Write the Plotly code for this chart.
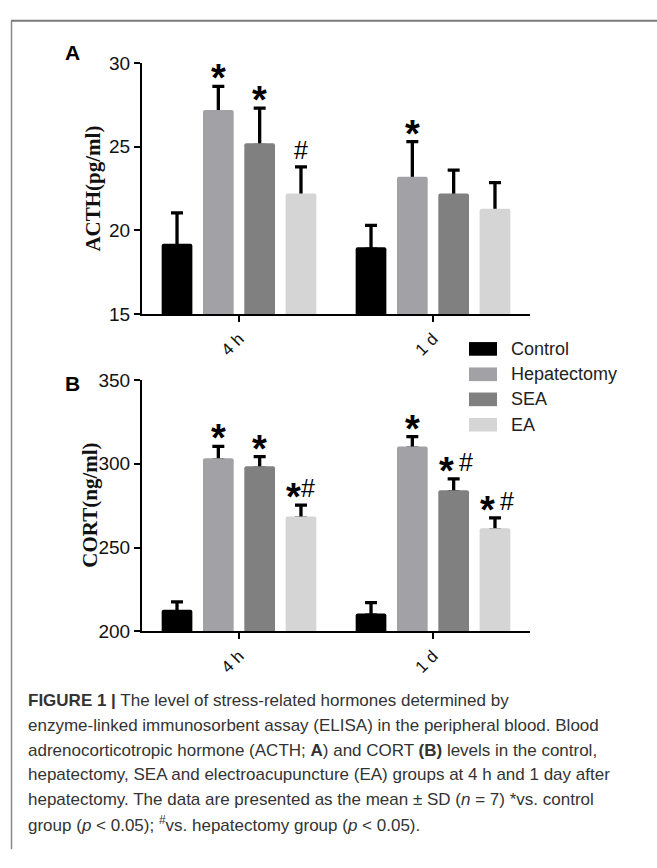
import plotly.graph_objects as go

W, H = 657, 868

# ---------------- data ----------------
timepoints = ["4 h", "1 d"]
groups = ["Control", "Hepatectomy", "SEA", "EA"]
colors = ["#000000", "#a2a2a6", "#808080", "#d5d5d5"]

acth_control = [19.2, 19.0]
acth_hepatectomy = [27.2, 23.2]
acth_sea = [25.2, 22.2]
acth_ea = [22.2, 21.3]
acth_sd_control = [1.85, 1.3]
acth_sd_hepatectomy = [1.4, 2.1]
acth_sd_sea = [2.1, 1.4]
acth_sd_ea = [1.6, 1.55]

cort_control = [212.8, 210.7]
cort_hepatectomy = [303.4, 310.4]
cort_sea = [298.5, 284.2]
cort_ea = [268.5, 261.5]
cort_sd_control = [4.8, 6.4]
cort_sd_hepatectomy = [7.0, 5.9]
cort_sd_sea = [5.8, 6.8]
cort_sd_ea = [6.8, 6.2]

# significance marks per group (one string per time point)
acth_marks_control = ["", ""]
acth_marks_hepatectomy = ["*", "*"]
acth_marks_sea = ["*", ""]
acth_marks_ea = ["#", ""]
cort_marks_control = ["", ""]
cort_marks_hepatectomy = ["*", "*"]
cort_marks_sea = ["*", "* #"]
cort_marks_ea = ["*#", "* #"]

acth_ticks = [15, 20, 25, 30]
cort_ticks = [200, 250, 300, 350]

acth_means = [acth_control, acth_hepatectomy, acth_sea, acth_ea]
acth_sds = [acth_sd_control, acth_sd_hepatectomy, acth_sd_sea, acth_sd_ea]
acth_marks = [acth_marks_control, acth_marks_hepatectomy, acth_marks_sea, acth_marks_ea]
cort_means = [cort_control, cort_hepatectomy, cort_sea, cort_ea]
cort_sds = [cort_sd_control, cort_sd_hepatectomy, cort_sd_sea, cort_sd_ea]
cort_marks = [cort_marks_control, cort_marks_hepatectomy, cort_marks_sea, cort_marks_ea]

# ---------------- layout helpers ----------------
SANS = "Liberation Sans, Arial, sans-serif"
SERIF = "Liberation Serif, Times New Roman, serif"
BARGAP = 0.148
BARGROUPGAP = 0.257
SLOT = (1 - BARGAP) / len(groups)


def px_x(p):
    return p / W


def px_y(p):
    return 1 - p / H


fig = go.Figure()

panels = [
    ("x", "y", acth_means, acth_sds, acth_marks, 0.12),
    ("x2", "y2", cort_means, cort_sds, cort_marks, 1.0),
]

annotations = []
for xa, ya, means, sds, marks, shoe in panels:
    for gi, g in enumerate(groups):
        # carrier trace for the upper-only error bar (its lower cap hides under the bar)
        fig.add_trace(go.Bar(
            x=timepoints, y=means[gi], xaxis=xa, yaxis=ya,
            offsetgroup=g, marker=dict(color="rgba(0,0,0,0)", line=dict(width=0)),
            error_y=dict(type="data", symmetric=False, array=sds[gi],
                         arrayminus=[shoe] * len(timepoints),
                         thickness=3.3, width=6, color="#000000"),
            showlegend=False, hoverinfo="skip",
        ))
        fig.add_trace(go.Bar(
            x=timepoints, y=means[gi], xaxis=xa, yaxis=ya,
            offsetgroup=g, name=g,
            marker=dict(color=colors[gi], line=dict(width=0), cornerradius=2),
            showlegend=False,
        ))
        for ti in range(len(timepoints)):
            m = marks[gi][ti]
            if not m:
                continue
            xpos = ti + (gi - 1.5) * SLOT
            ytop = means[gi][ti] + sds[gi][ti]
            if m == "*":
                parts = [("*", 0)]
            elif m == "#":
                parts = [("#", 0)]
            elif m == "*#":
                parts = [("*", -7), ("#", 7.5)]
            else:
                parts = [("*", -7), ("#", 12.5)]
            for ch, dx in parts:
                if ch == "*":
                    annotations.append(dict(
                        x=xpos, y=ytop, xref=xa, yref=ya, text="<b>*</b>",
                        showarrow=False, xanchor="center", yanchor="middle",
                        xshift=dx, yshift=8,
                        font=dict(family=SANS, size=38, color="#000000")))
                else:
                    annotations.append(dict(
                        x=xpos, y=ytop, xref=xa, yref=ya, text="#",
                        showarrow=False, xanchor="center", yanchor="middle",
                        xshift=dx, yshift=17,
                        font=dict(family=SANS, size=25, color="#000000")))

x_dom = [px_x(142), px_x(530)]
ya_dom = [px_y(311.7), px_y(54.3)]
yb_dom = [px_y(636.7), px_y(379.3)]

axis_common = dict(showline=True, linewidth=2, linecolor="#000000", ticks="outside",
                   ticklen=6, tickwidth=2, tickcolor="#000000", showgrid=False,
                   zeroline=False)

fig.update_layout(
    width=W, height=H,
    margin=dict(l=0, r=0, t=0, b=0),
    paper_bgcolor="#ffffff", plot_bgcolor="rgba(0,0,0,0)",
    barmode="group", bargap=BARGAP, bargroupgap=BARGROUPGAP,
    showlegend=False,
    xaxis=dict(domain=x_dom, anchor="y", type="category", range=[-0.5, 1.5],
               tickangle=-45, tickfont=dict(family=SANS, size=17, color="#111111"),
               **axis_common),
    yaxis=dict(domain=ya_dom, anchor="x", range=[acth_ticks[0], acth_ticks[-1]],
               tickvals=acth_ticks, tickfont=dict(family=SANS, size=19, color="#111111"),
               **axis_common),
    xaxis2=dict(domain=x_dom, anchor="y2", type="category", range=[-0.5, 1.5],
                tickangle=-45, tickfont=dict(family=SANS, size=17, color="#111111"),
                **axis_common),
    yaxis2=dict(domain=yb_dom, anchor="x2", range=[cort_ticks[0], cort_ticks[-1]],
                tickvals=cort_ticks, tickfont=dict(family=SANS, size=19, color="#111111"),
                **axis_common),
)

# y titles
annotations.append(dict(x=px_x(93), y=px_y(183), xref="paper", yref="paper",
                        text="<b>ACTH(pg/ml)</b>", textangle=-90, showarrow=False,
                        xanchor="center", yanchor="middle",
                        font=dict(family=SERIF, size=21, color="#111111")))
annotations.append(dict(x=px_x(90), y=px_y(508), xref="paper", yref="paper",
                        text="<b>CORT(ng/ml)</b>", textangle=-90, showarrow=False,
                        xanchor="center", yanchor="middle",
                        font=dict(family=SERIF, size=21, color="#111111")))
# panel letters
for letter, yc in (("A", 43.5), ("B", 383)):
    annotations.append(dict(x=px_x(72), y=px_y(yc), xref="paper", yref="paper",
                            text="<b>%s</b>" % letter, showarrow=False,
                            xanchor="center", yanchor="middle",
                            font=dict(family=SANS, size=21, color="#000000")))

# legend (manual)
shapes = []
leg_y = [347.3, 373.3, 399, 425]
for gi, g in enumerate(groups):
    shapes.append(dict(type="rect", xref="paper", yref="paper",
                       x0=px_x(469), x1=px_x(497), y0=px_y(leg_y[gi] - 7), y1=px_y(leg_y[gi] + 7),
                       fillcolor=colors[gi], line=dict(width=0)))
    annotations.append(dict(x=px_x(509), y=px_y(leg_y[gi]), xref="paper", yref="paper",
                            text=g, showarrow=False, xanchor="left", yanchor="middle",
                            font=dict(family=SANS, size=18, color="#222222")))

# frame
shapes.append(dict(type="line", xref="paper", yref="paper", x0=px_x(11.5), x1=px_x(11.5),
                   y0=px_y(11), y1=px_y(860), line=dict(color="#8a8a8a", width=1.5)))
shapes.append(dict(type="line", xref="paper", yref="paper", x0=px_x(11), x1=1,
                   y0=px_y(11), y1=px_y(11), line=dict(color="#7a7a7a", width=2)))

# caption
caption_lines = [
    "<b>FIGURE 1 |</b> The level of stress-related hormones determined by",
    "enzyme-linked immunosorbent assay (ELISA) in the peripheral blood. Blood",
    "adrenocorticotropic hormone (ACTH; <b>A</b>) and CORT <b>(B)</b> levels in the control,",
    "hepatectomy, SEA and electroacupuncture (EA) groups at 4 h and 1 day after",
    "hepatectomy. The data are presented as the mean \u00b1 SD (<i>n</i> = 7) *vs. control",
    "group (<i>p</i> &lt; 0.05); <sup>#</sup>vs. hepatectomy group (<i>p</i> &lt; 0.05).",
]
for i, line in enumerate(caption_lines):
    annotations.append(dict(x=px_x(26), y=px_y(708 + 25.2 * i), xref="paper", yref="paper",
                            text=line, showarrow=False, xanchor="left", yanchor="middle",
                            font=dict(family=SANS, size=17, color="#333333")))

fig.update_layout(annotations=annotations, shapes=shapes)
fig.write_html("out.html", config=dict(displayModeBar=False),
               post_script="document.body.style.margin='0px';")
